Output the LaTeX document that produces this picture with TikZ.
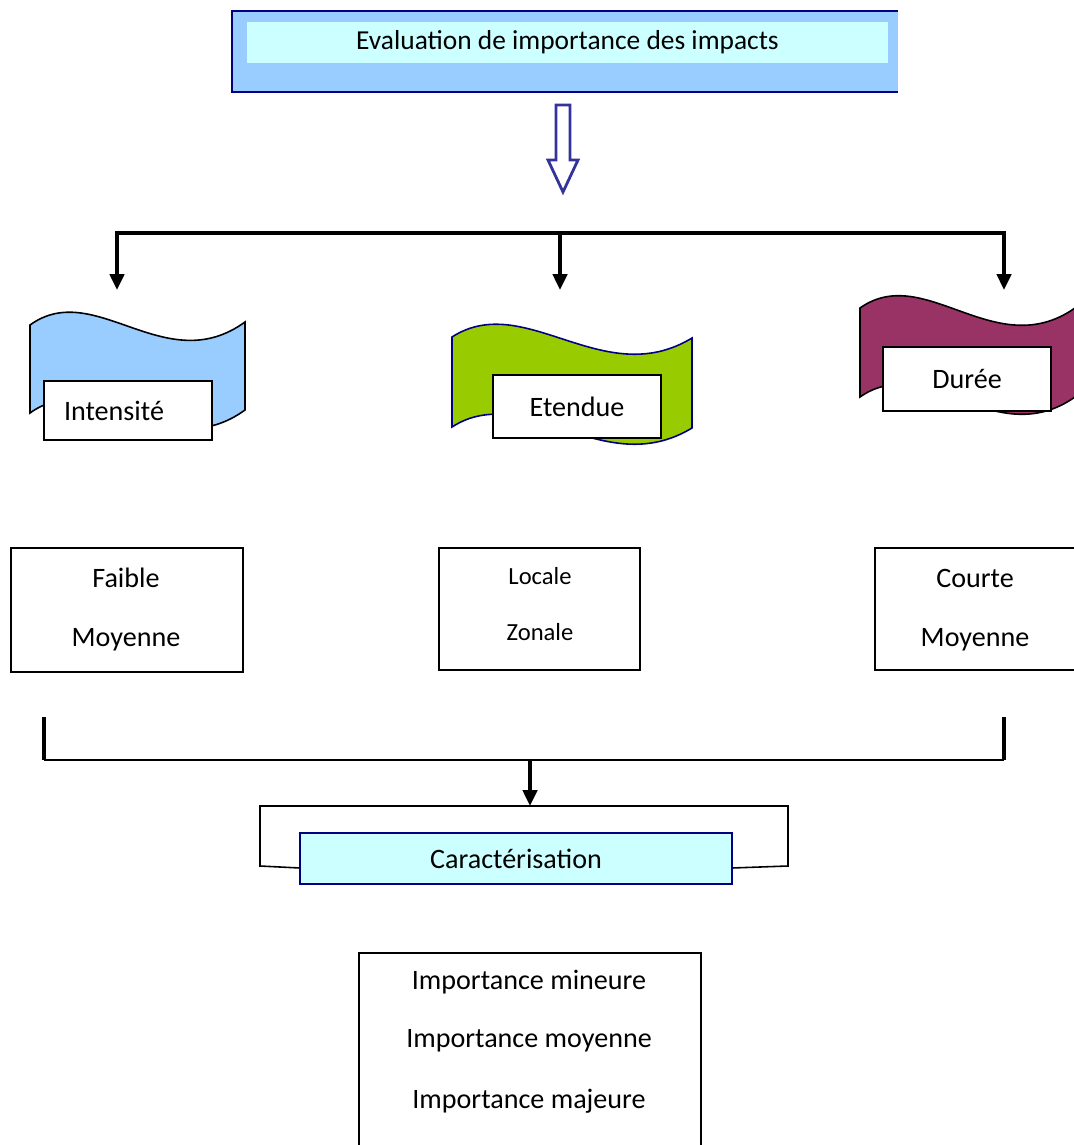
\documentclass[tikz,border=0pt]{standalone}
\usepackage{fontspec}
\setmainfont{Carlito}
\usetikzlibrary{arrows.meta}
\tikzset{>=stealth}
\definecolor{bleuciel}{HTML}{99CCFF}
\definecolor{cyanpale}{HTML}{CCFFFF}
\definecolor{vertolive}{HTML}{99CC00}
\definecolor{prune}{HTML}{993366}
\definecolor{marine}{HTML}{000080}
\definecolor{indigo}{HTML}{333399}
\tikzset{
  texte/.style={font=\fontsize{16}{19}\selectfont},
  petit/.style={font=\fontsize{14}{17}\selectfont},
  boite/.style={texte, draw, fill=white, line width=0.9pt, inner sep=0pt},
  vague/.style={draw, line width=0.9pt},
  fleche/.style={line width=2.2pt, -{Triangle[length=9pt,width=8pt]}},
  barre/.style={line width=2.2pt}
}

\begin{document}
\begin{tikzpicture}[x=0.02cm, y=-0.02cm]
    \useasboundingbox (0,0) rectangle (1074,1145);

    % titre
    \node (eval) at (565,51.5) [fill=bleuciel, minimum width=13.32cm, minimum height=1.62cm, inner sep=0pt] {};
    \draw [marine, line width=1.1pt] (eval.north east) -- (eval.north west) -- (eval.south west) -- (eval.south east);
    \node (titre) at (567.5,42.5) [font=\fontsize{15.6}{19}\selectfont, fill=cyanpale, minimum width=12.82cm, minimum height=0.82cm, inner sep=0pt] {Evaluation de importance des impacts};

    % grosse fleche creuse
    \draw [indigo, line width=1.6pt, fill=white, line join=miter]
        (556,105) -- (570,105) -- (570,160) -- (578,160) -- (563,192) -- (548,160) -- (556,160) -- cycle;

    % barre de distribution
    \coordinate (h1) at (117,233);
    \coordinate (h2) at (560,233);
    \coordinate (h3) at (1004,233);
    \coordinate (t1) at (117,290);
    \coordinate (t2) at (560,290);
    \coordinate (t3) at (1004,290);
    \draw [barre, line cap=rect] (h1) -- (h3);
    \draw [fleche] (h1) -- (t1);
    \draw [fleche] (h2) -- (t2);
    \draw [fleche] (h3) -- (t3);

    % drapeaux
    \draw [vague, fill=bleuciel] (30,325) .. controls (95,278) and (165,380) .. (245,322)
        -- (245,410) .. controls (165,468) and (95,366) .. (30,413) -- cycle;
    \draw [vague, draw=marine, fill=vertolive] (452,337) .. controls (525,290) and (603,392) .. (692,338)
        -- (692,428) .. controls (603,482) and (525,380) .. (452,427) -- cycle;
    \draw [vague, fill=prune] (860,308) .. controls (925,262) and (995,364) .. (1075,308)
        -- (1075,397) .. controls (995,453) and (925,351) .. (860,397) -- cycle;

    \node (intens) at (128,410.5) [boite, text width=2.56cm, inner xsep=0.4cm, align=left, minimum height=1.18cm] {Intensité};
    \node (etend) at (577,406.5) [boite, minimum width=3.36cm, minimum height=1.26cm] {Etendue};
    \node (duree) at (967,379) [boite, minimum width=3.36cm, minimum height=1.28cm] {Durée};

    % criteres
    \node (faible) at (127,610) [boite, minimum width=4.64cm, minimum height=2.48cm] {};
    \node (f1) at (126,578) [texte] {Faible};
    \node (f2) at (126,640) [texte] {Moyenne};
    \node (locale) at (539.5,609) [boite, minimum width=4.02cm, minimum height=2.44cm] {};
    \node (l1) at (540,576) [petit] {Locale};
    \node (l2) at (540,632) [petit] {Zonale};
    \node (courte) at (975,609) [boite, minimum width=4cm, minimum height=2.44cm] {};
    \node (c1) at (975,578) [texte] {Courte};
    \node (c2) at (975,640) [texte] {Moyenne};

    % regroupement
    \coordinate (k1) at (44,717);
    \coordinate (k2) at (44,760);
    \coordinate (k3) at (1004,760);
    \coordinate (k4) at (1004,717);
    \coordinate (km) at (530,760);
    \coordinate (kc) at (530,806);
    \draw [barre] (k1) -- (k2);
    \draw [barre] (k4) -- (k3);
    \draw [line width=1.2pt] (k2) -- (k3);
    \draw [fleche] (km) -- (kc);

    \draw [line width=0.9pt] (300,868) -- (260,866) -- (260,806) -- (788,806) -- (788,866) -- (732,868);
    \node (carac) at (516,858.5) [texte, draw=marine, line width=0.9pt, fill=cyanpale, minimum width=8.64cm, minimum height=1.02cm, inner sep=0pt] {Caractérisation};

    % resultat
    \node (import) at (530,952) [boite, minimum width=6.84cm, minimum height=4cm, anchor=north] {};
    \node (mineure) at (529,982) [texte] {Importance mineure};
    \node (moyenne) at (529,1041) [texte] {Importance moyenne};
    \node (majeure) at (529,1101) [texte] {Importance majeure};
\end{tikzpicture}
\end{document}
